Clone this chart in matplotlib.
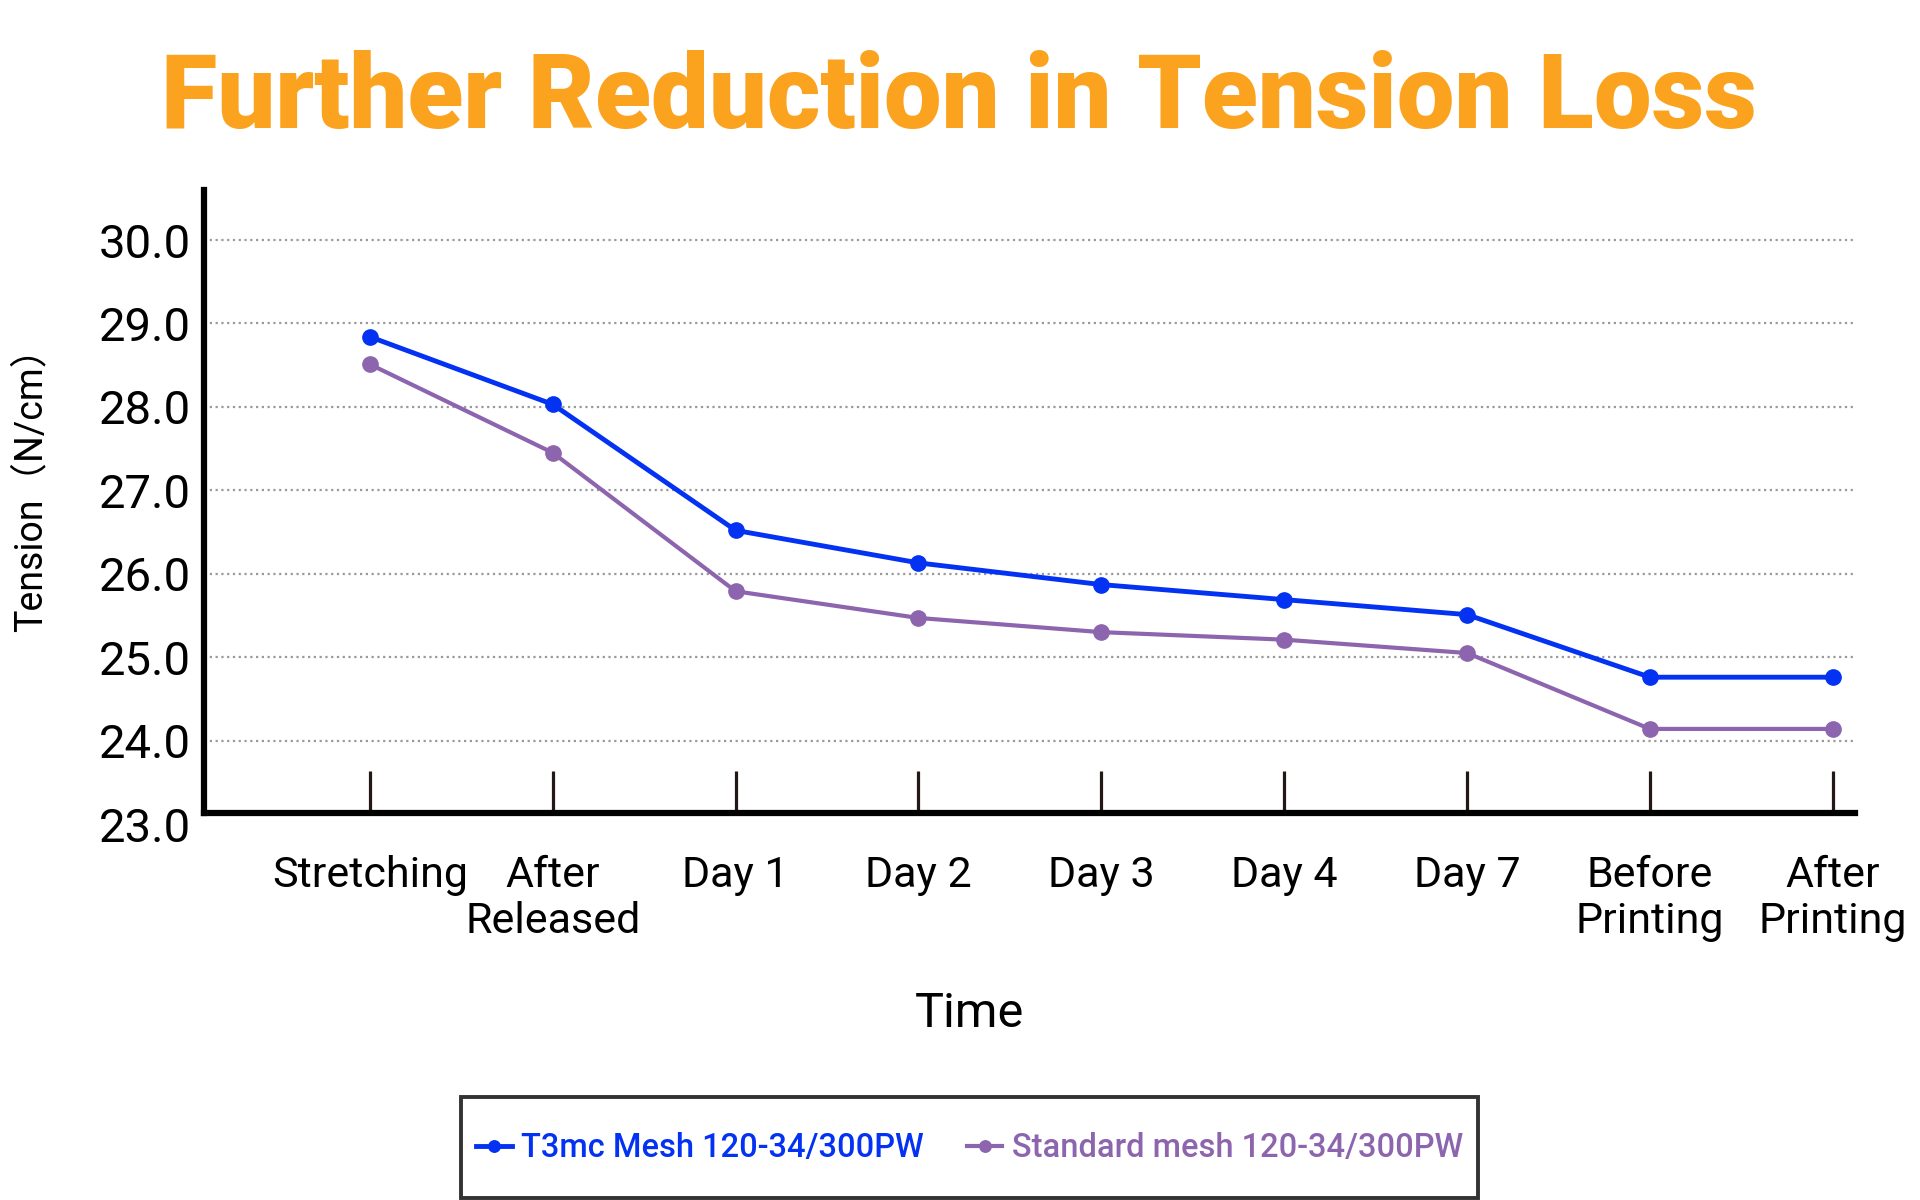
import matplotlib
matplotlib.use("Agg")
import matplotlib.pyplot as plt
import numpy as np

# valeurs
stages = ["Stretching", "After\nReleased", "Day 1", "Day 2", "Day 3", "Day 4",
          "Day 7", "Before\nPrinting", "After\nPrinting"]
t3mc = [28.84, 28.03, 26.52, 26.13, 25.87, 25.69, 25.51, 24.76, 24.76]
standard = [28.51, 27.45, 25.79, 25.47, 25.30, 25.21, 25.05, 24.14, 24.14]
yticks = [23.0, 24.0, 25.0, 26.0, 27.0, 28.0, 29.0, 30.0]

blue = "#0432F2"
purple = "#8D65AE"
orange = "#FBA21F"

plt.rcParams['font.family'] = ['Roboto', 'Noto Sans CJK SC', 'DejaVu Sans']

fig = plt.figure(figsize=(19.2, 12), dpi=100)
ax = fig.add_axes([0.106, 0.3133, 0.860, 0.5284])

x = list(range(len(stages)))
ax.plot(x, t3mc, color=blue, lw=3.5, marker='o', ms=11, label="T3mc Mesh 120-34/300PW", zorder=4)
ax.plot(x, standard, color=purple, lw=3.0, marker='o', ms=11, label="Standard mesh 120-34/300PW", zorder=3)

ax.set_xlim(-0.91, 8.12)
ax.set_ylim(23.0, 30.6)
ax.set_yticks(yticks)
ax.set_yticklabels([f"{v:.1f}" for v in yticks])
ax.set_xticks(x)
ax.set_xticklabels(stages)

for v in yticks[1:]:
    ax.axhline(v, color="#9a9a9a", lw=1.6, ls=(0, (1, 1.6)), zorder=1)

# l'axe du bas est un peu au-dessus de 23.0
ax.spines['bottom'].set_position(('data', 23.13))
ax.spines['left'].set_bounds(23.13, 30.6)
for s in ['top', 'right']:
    ax.spines[s].set_visible(False)
for s in ['left', 'bottom']:
    ax.spines[s].set_linewidth(4.5)
    ax.spines[s].set_color("black")
    ax.spines[s].set_capstyle('projecting')

ax.tick_params(axis='x', direction='in', length=30, width=2.3, color="#231815",
               labelsize=31, pad=30)
ax.tick_params(axis='y', length=0, labelsize=34, pad=9)
for lab in ax.get_xticklabels():
    lab.set_linespacing(1.15)

fig.text(0.505, 0.155, "Time", ha='center', va='center', fontsize=35)
fig.text(0.016, 0.6, "Tension（N/cm）", rotation=90, ha='center', va='center', fontsize=27)

fig.text(0.4995, 0.917, "Further Reduction in Tension Loss", ha='center', va='center',
         fontsize=74, fontweight='black', color=orange)

leg = fig.legend(loc='center', bbox_to_anchor=(0.505, 0.044), ncol=2,
                 labelcolor='linecolor', frameon=True, fancybox=False, edgecolor='black',
                 borderpad=0.45, handleheight=3.0, handlelength=1.1, handletextpad=0.3,
                 columnspacing=1.3, markerscale=0.75, prop={'weight': 'medium', 'size': 23.5})
leg.get_frame().set_linewidth(2.8)
# descendre un peu les symboles pour les aligner sur le texte
for ln in leg.get_lines():
    ln.set_ydata(np.asarray(ln.get_ydata()) - 8.5)

fig.savefig("out.png", dpi=100, facecolor="white")
